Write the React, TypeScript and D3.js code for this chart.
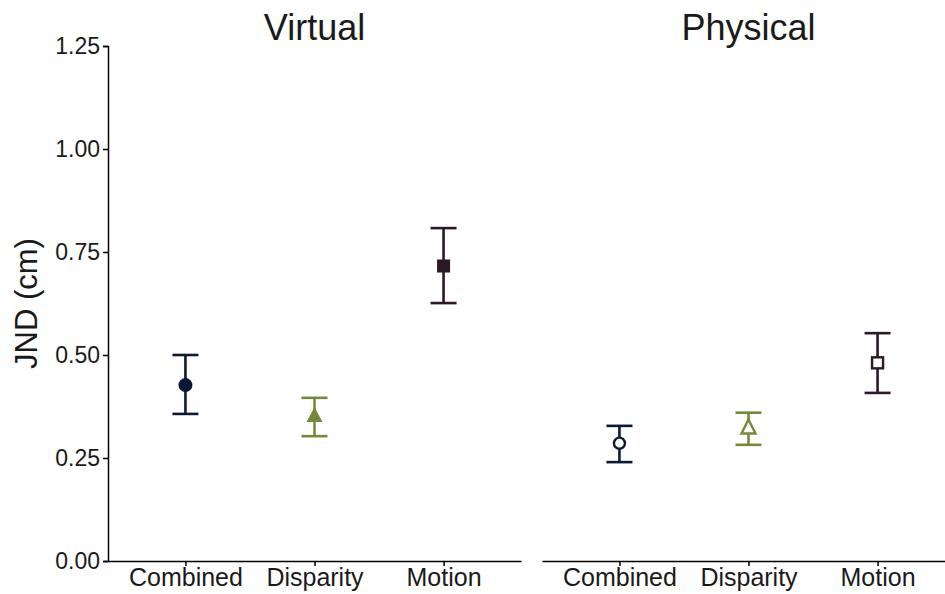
import { useEffect, useRef } from "react";
import * as d3 from "d3";

const panels = ["Virtual", "Physical"];
const conditions = ["Combined", "Disparity", "Motion"];
const colors = ["#0b1a33", "#76893a", "#2d1828"];
const shapes = ["circle", "triangle", "square"];

// JND means and error bar ends, per panel
const virtualMean = [0.427, 0.352, 0.716];
const virtualLow = [0.357, 0.303, 0.626];
const virtualHigh = [0.5, 0.396, 0.808];
const physicalMean = [0.286, 0.323, 0.481];
const physicalLow = [0.24, 0.282, 0.408];
const physicalHigh = [0.328, 0.36, 0.553];

const yTicks = [0, 0.25, 0.5, 0.75, 1.0, 1.25];

const App = () => {
  const ref = useRef<SVGSVGElement>(null);

  useEffect(() => {
    const width = 945, height = 594;
    const font = "Liberation Sans, Arial, sans-serif";

    const svg = d3.select(ref.current)
      .html("")
      .attr("width", width)
      .attr("height", height);

    const y = d3.scaleLinear().domain([0, 1.25]).range([561, 46]);
    const ranges: [number, number][] = [[108, 521], [542, 955]];
    const data = [
      { mean: virtualMean, low: virtualLow, high: virtualHigh, open: false },
      { mean: physicalMean, low: physicalLow, high: physicalHigh, open: true },
    ];

    // y axis on left panel only
    const yAxis = svg.append("g")
      .attr("transform", "translate(108,0)")
      .call(d3.axisLeft(y).tickValues(yTicks).tickFormat(d3.format(".2f")).tickSize(5).tickPadding(3));
    yAxis.select(".domain").attr("stroke", "#000").attr("stroke-width", 1.5);
    yAxis.selectAll(".tick line").attr("stroke", "#000").attr("stroke-width", 1.5);
    yAxis.selectAll("text")
      .attr("fill", "#1a1a1a")
      .style("font-family", font)
      .style("font-size", "23px");

    svg.append("text")
      .attr("transform", `translate(37,${(46 + 561) / 2}) rotate(-90)`)
      .attr("text-anchor", "middle")
      .attr("fill", "#1a1a1a")
      .style("font-family", font)
      .style("font-size", "31px")
      .text("JND (cm)");

    panels.forEach((name, p) => {
      const x = d3.scalePoint<string>().domain(conditions).range(ranges[p]).padding(0.6);
      const xAxis = svg.append("g")
        .attr("transform", "translate(0,561)")
        .call(d3.axisBottom(x).tickSize(5).tickPadding(2).tickSizeOuter(0));
      xAxis.select(".domain").attr("stroke", "#000").attr("stroke-width", 1.5);
      xAxis.selectAll(".tick line").attr("stroke", "#000").attr("stroke-width", 1.5);
      xAxis.selectAll("text")
        .attr("fill", "#1a1a1a")
        .style("font-family", font)
        .style("font-size", "25px");

      svg.append("text")
        .attr("x", x("Disparity"))
        .attr("y", 40)
        .attr("text-anchor", "middle")
        .attr("fill", "#1a1a1a")
        .style("font-family", font)
        .style("font-size", "36px")
        .text(name);

      const d = data[p];
      const g = svg.append("g");
      conditions.forEach((c, i) => {
        const cx = x(c)!;
        const col = colors[i];
        const cap = 13;
        g.append("line")
          .attr("x1", cx).attr("x2", cx)
          .attr("y1", y(d.low[i])).attr("y2", y(d.high[i]))
          .attr("stroke", col).attr("stroke-width", 2.6);
        [d.low[i], d.high[i]].forEach(v => {
          g.append("line")
            .attr("x1", cx - cap).attr("x2", cx + cap)
            .attr("y1", y(v)).attr("y2", y(v))
            .attr("stroke", col).attr("stroke-width", 2.6);
        });
        const cy = y(d.mean[i]);
        const fill = d.open ? "#fff" : col;
        const sw = d.open ? 2.4 : 0;
        const s = shapes[i];
        if (s === "circle") {
          g.append("circle")
            .attr("cx", cx).attr("cy", cy)
            .attr("r", d.open ? 5.5 : 7)
            .attr("fill", fill).attr("stroke", col).attr("stroke-width", sw);
        } else if (s === "triangle") {
          const h = d.open ? 14 : 15, w = d.open ? 7 : 8;
          g.append("path")
            .attr("d", `M${cx},${cy - h * 0.6} L${cx + w},${cy + h * 0.4} L${cx - w},${cy + h * 0.4} Z`)
            .attr("fill", fill).attr("stroke", col).attr("stroke-width", sw);
        } else {
          const a = d.open ? 11 : 13;
          g.append("rect")
            .attr("x", cx - a / 2).attr("y", cy - a / 2)
            .attr("width", a).attr("height", a)
            .attr("fill", fill).attr("stroke", col).attr("stroke-width", sw);
        }
      });
    });
  }, []);

  return <svg ref={ref} style={{ position: "absolute", left: 0, top: 0 }}></svg>;
};

export default App;
